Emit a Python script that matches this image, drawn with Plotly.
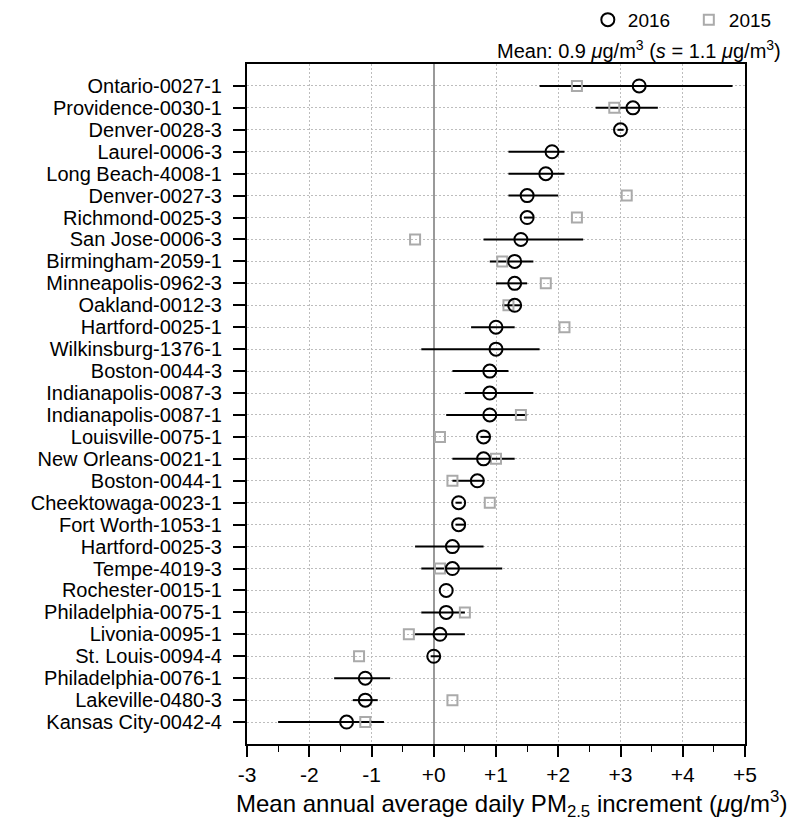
import plotly.graph_objects as go

# Monitoring sites, listed top to bottom
sites = [
    "Ontario-0027-1", "Providence-0030-1", "Denver-0028-3", "Laurel-0006-3",
    "Long Beach-4008-1", "Denver-0027-3", "Richmond-0025-3", "San Jose-0006-3",
    "Birmingham-2059-1", "Minneapolis-0962-3", "Oakland-0012-3", "Hartford-0025-1",
    "Wilkinsburg-1376-1", "Boston-0044-3", "Indianapolis-0087-3", "Indianapolis-0087-1",
    "Louisville-0075-1", "New Orleans-0021-1", "Boston-0044-1", "Cheektowaga-0023-1",
    "Fort Worth-1053-1", "Hartford-0025-3", "Tempe-4019-3", "Rochester-0015-1",
    "Philadelphia-0075-1", "Livonia-0095-1", "St. Louis-0094-4", "Philadelphia-0076-1",
    "Lakeville-0480-3", "Kansas City-0042-4",
]

# 2016 mean increment and its interval bounds (ug/m3)
inc_2016 = [3.3, 3.2, 3.0, 1.9, 1.8, 1.5, 1.5, 1.4, 1.3, 1.3, 1.3, 1.0, 1.0, 0.9, 0.9,
            0.9, 0.8, 0.8, 0.7, 0.4, 0.4, 0.3, 0.3, 0.2, 0.2, 0.1, 0.0, -1.1, -1.1, -1.4]
low_2016 = [1.7, 2.6, 2.95, 1.2, 1.2, 1.2, 1.45, 0.8, 0.9, 1.0, 1.1, 0.6, -0.2, 0.3, 0.5,
            0.2, 0.75, 0.3, 0.3, 0.35, 0.35, -0.3, -0.2, 0.2, -0.2, -0.3, -0.05, -1.6, -1.3, -2.5]
high_2016 = [4.8, 3.6, 3.05, 2.1, 2.1, 2.0, 1.6, 2.4, 1.6, 1.5, 1.4, 1.3, 1.7, 1.2, 1.6,
             1.5, 0.9, 1.3, 0.8, 0.45, 0.5, 0.8, 1.1, 0.2, 0.5, 0.5, 0.1, -0.7, -0.9, -0.8]

# 2015 mean increment (None where not available)
inc_2015 = [2.3, 2.9, None, None, None, 3.1, 2.3, -0.3, 1.1, 1.8, 1.2, 2.1, None, None, None,
            1.4, 0.1, 1.0, 0.3, 0.9, None, None, 0.1, None, 0.5, -0.4, -1.2, None, 0.3, -1.1]

x_tickvals = [-3, -2, -1, 0, 1, 2, 3, 4, 5]
x_ticktext = ["-3", "-2", "-1", "+0", "+1", "+2", "+3", "+4", "+5"]

FONT = "Liberation Sans, Arial, sans-serif"
GRID = "#bdbdbd"
DOTS = "2px,2px"

err_plus = [h - v for h, v in zip(high_2016, inc_2016)]
err_minus = [v - l for v, l in zip(inc_2016, low_2016)]

fig = go.Figure()

# 2016 intervals (drawn first so markers sit on top)
fig.add_trace(go.Scatter(
    x=inc_2016, y=sites, mode="markers",
    marker=dict(size=1, color="rgba(0,0,0,0)"),
    error_x=dict(type="data", symmetric=False, array=err_plus, arrayminus=err_minus,
                 color="black", thickness=2, width=0),
    showlegend=False, hoverinfo="skip",
))

# 2015 values
fig.add_trace(go.Scatter(
    x=inc_2015, y=sites, mode="markers", name="2015",
    marker=dict(symbol="square-open", size=10, color="#aaaaaa", line=dict(width=2, color="#aaaaaa")),
    legendrank=2,
))

# 2016 values
fig.add_trace(go.Scatter(
    x=inc_2016, y=sites, mode="markers", name="2016",
    marker=dict(symbol="circle-open", size=13, color="black", line=dict(width=2, color="black")),
    legendrank=1,
))

fig.update_layout(
    width=795, height=827,
    margin=dict(l=247, r=50, t=64, b=83),
    paper_bgcolor="white", plot_bgcolor="white",
    font=dict(family=FONT, size=20, color="black"),
    showlegend=True,
    legend=dict(orientation="h", x=1.09, xanchor="right", y=0.999, yanchor="top",
                yref="container", font=dict(size=19), itemwidth=30,
                entrywidth=56, entrywidthmode="pixels",
                bgcolor="rgba(0,0,0,0)"),
)

fig.update_xaxes(
    range=[-3, 5], tickvals=x_tickvals, ticktext=x_ticktext,
    tickfont=dict(size=21), ticks="outside", ticklen=11, tickwidth=1.5, tickcolor="black",
    minor=dict(dtick=0.5, ticks="outside", ticklen=6, tickwidth=1.2, tickcolor="black", showgrid=False),
    showline=True, linecolor="black", linewidth=2, mirror=True,
    showgrid=True, gridcolor=GRID, griddash=DOTS, gridwidth=1,
    zeroline=True, zerolinecolor="#999999", zerolinewidth=1.5,
)
fig.update_yaxes(
    type="category", categoryorder="array", categoryarray=sites,
    tickmode="array", tickvals=sites, ticktext=sites,
    range=[len(sites), -1],
    tickfont=dict(size=20), ticks="outside", ticklen=12, tickwidth=1.5, tickcolor="black",
    ticklabelstandoff=7,
    showline=True, linecolor="black", linewidth=2, mirror=True,
    showgrid=True, gridcolor=GRID, griddash=DOTS, gridwidth=1,
)

fig.add_annotation(
    text="Mean annual average daily PM<sub>2.5</sub> increment (<i>\u03bc</i>g/m<sup>3</sup>)",
    xref="paper", yref="paper", x=0.532, y=-0.06, xanchor="center", yanchor="top",
    showarrow=False, font=dict(size=24),
)
fig.add_annotation(
    text="Mean: 0.9 <i>\u03bc</i>g/m<sup>3</sup> (<i>s</i> = 1.1 <i>\u03bc</i>g/m<sup>3</sup>)",
    xref="paper", yref="paper", x=1.076, y=1.0, xanchor="right", yanchor="bottom",
    showarrow=False, font=dict(size=20),
)

fig.write_html("out.html")
